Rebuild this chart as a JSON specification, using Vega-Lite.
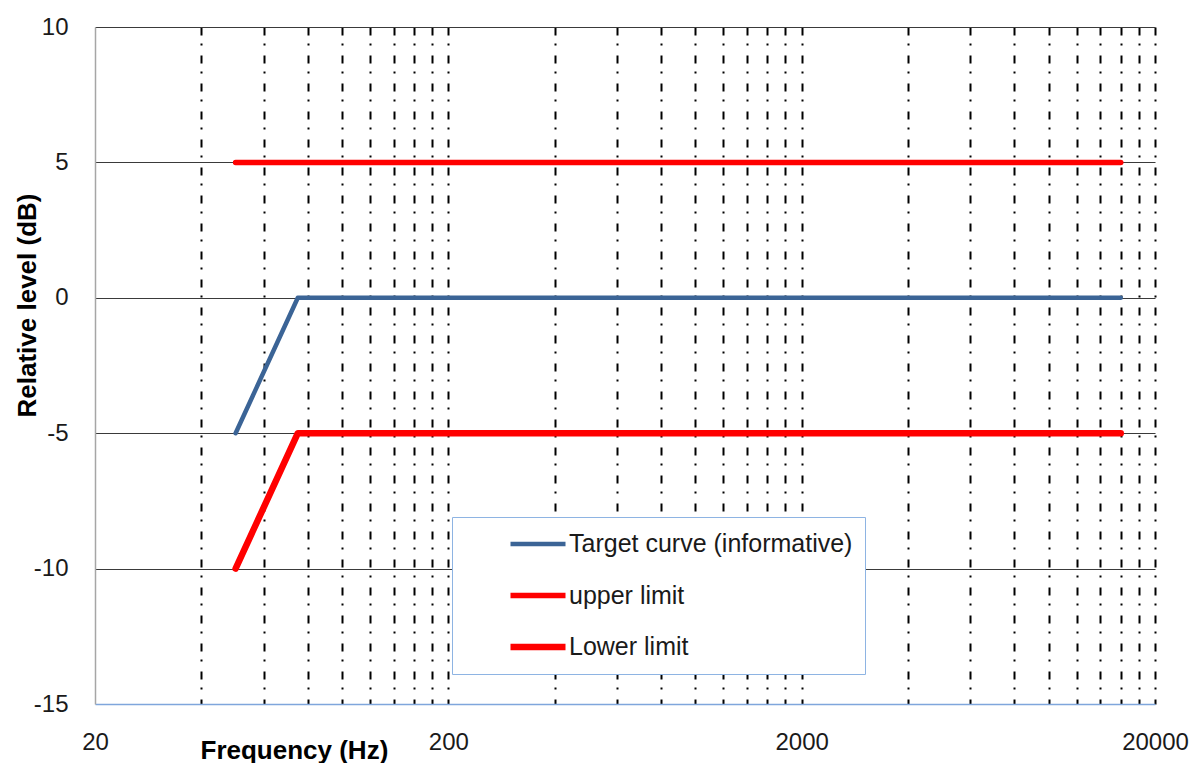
{
  "$schema": "https://vega.github.io/schema/vega-lite/v6.json",
  "width": 1060,
  "height": 677,
  "autosize": "none",
  "padding": {"left": 95, "top": 27, "right": 35, "bottom": 59},
  "background": "white",
  "config": {
    "view": {"stroke": null},
    "font": "Liberation Sans",
    "legend": {
      "orient": "none",
      "legendX": 357,
      "legendY": 490,
      "direction": "vertical",
      "symbolType": "stroke",
      "symbolSize": 3025,
      "symbolOffset": 43,
      "labelOffset": 0,
      "labelLimit": 600,
      "labelFont": "Liberation Sans",
      "labelFontSize": 25,
      "labelColor": "#1a1a1a",
      "clipHeight": 30,
      "rowPadding": 21.5,
      "padding": 12,
      "fillColor": "white",
      "strokeColor": "#8eb4e3"
    }
  },
  "data": {
    "values": [
      {"series": "Target curve (informative)", "freq": 50, "level": -5},
      {"series": "Target curve (informative)", "freq": 75, "level": 0},
      {"series": "Target curve (informative)", "freq": 16000, "level": 0},
      {"series": "upper limit", "freq": 50, "level": 5},
      {"series": "upper limit", "freq": 16000, "level": 5},
      {"series": "Lower limit", "freq": 50, "level": -10},
      {"series": "Lower limit", "freq": 75, "level": -5},
      {"series": "Lower limit", "freq": 16000, "level": -5}
    ]
  },
  "mark": {"type": "line", "strokeCap": "round", "strokeJoin": "round", "clip": true},
  "encoding": {
    "x": {
      "field": "freq",
      "type": "quantitative",
      "scale": {"type": "log", "domain": [20, 20000], "nice": false},
      "axis": {
        "title": "Frequency (Hz)",
        "values": [20, 40, 60, 80, 100, 120, 140, 160, 180, 200, 400, 600, 800, 1000, 1200, 1400, 1600, 1800, 2000, 4000, 6000, 8000, 10000, 12000, 14000, 16000, 18000, 20000],
        "labelExpr": "indexof([20, 200, 2000, 20000], datum.value) >= 0 ? toString(datum.value) : ''",
        "labelOverlap": false,
        "labelFlush": false,
        "labelFont": "Liberation Sans",
        "labelFontSize": 24,
        "labelColor": "#1a1a1a",
        "labelPadding": 26,
        "labelBaseline": "top",
        "ticks": false,
        "domainColor": "#7fa6dc",
        "domainWidth": 1.5,
        "grid": true,
        "gridColor": {"condition": {"test": "datum.value === 20", "value": "transparent"}, "value": "#000000"},
        "gridWidth": 2,
        "gridDash": [8, 8, 2, 10],
        "titleFont": "Liberation Sans",
        "titleFontSize": 26,
        "titleFontWeight": "bold",
        "titleColor": "#000000",
        "titleAlign": "left",
        "titleBaseline": "alphabetic",
        "titleX": 105,
        "titleY": 54
      }
    },
    "y": {
      "field": "level",
      "type": "quantitative",
      "scale": {"domain": [-15, 10], "nice": false, "zero": false},
      "axis": {
        "title": "Relative level (dB)",
        "values": [-15, -10, -5, 0, 5, 10],
        "labelExpr": "toString(datum.value)",
        "labelFont": "Liberation Sans",
        "labelFontSize": 24,
        "labelColor": "#1a1a1a",
        "labelPadding": 27,
        "ticks": false,
        "domainColor": "#a6a6a6",
        "domainWidth": 1.5,
        "grid": true,
        "gridColor": {"condition": {"test": "datum.value === -15", "value": "transparent"}, "value": "#3a3a3a"},
        "gridWidth": 1.2,
        "titleFont": "Liberation Sans",
        "titleFontSize": 26,
        "titleFontWeight": "bold",
        "titleColor": "#000000",
        "titleAngle": -90,
        "titleAlign": "center",
        "titleBaseline": "alphabetic",
        "titleX": -60,
        "titleY": 278
      }
    },
    "color": {
      "field": "series",
      "type": "nominal",
      "scale": {
        "domain": ["Target curve (informative)", "upper limit", "Lower limit"],
        "range": ["#3b6496", "#ff0000", "#ff0000"]
      },
      "legend": {"title": null}
    },
    "strokeWidth": {
      "field": "series",
      "type": "nominal",
      "scale": {
        "domain": ["Target curve (informative)", "upper limit", "Lower limit"],
        "range": [4.5, 6.5, 6.5]
      },
      "legend": {"title": null}
    }
  }
}
